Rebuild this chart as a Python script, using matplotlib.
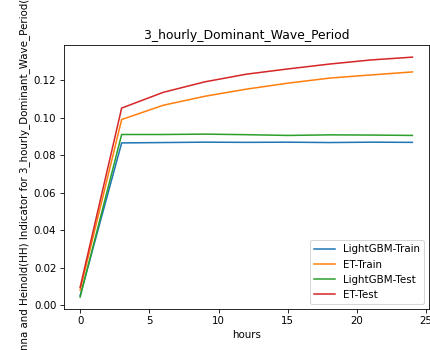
import matplotlib
matplotlib.use('Agg')
from matplotlib import pyplot as plt

hours = [0, 3, 6, 9, 12, 15, 18, 21, 24]

lgbm_train = [0.0050, 0.0866, 0.0868, 0.0870, 0.0869, 0.0870, 0.0868, 0.0870, 0.0869]
et_train = [0.0080, 0.0991, 0.1067, 0.1115, 0.1153, 0.1185, 0.1212, 0.1229, 0.1245]
lgbm_test = [0.0043, 0.0911, 0.0911, 0.0913, 0.0910, 0.0906, 0.0909, 0.0908, 0.0906]
et_test = [0.0095, 0.1052, 0.1136, 0.1192, 0.1233, 0.1261, 0.1287, 0.1309, 0.1324]

target = '3_hourly_Dominant_Wave_Period'

dpi = 74
fig = plt.figure(figsize=(430 / dpi, 350 / dpi), dpi=dpi)
ax = fig.add_axes([0.1477, 0.117, 0.850, 0.754])

ax.plot(hours, lgbm_train, label='LightGBM-Train')
ax.plot(hours, et_train, label='ET-Train')
ax.plot(hours, lgbm_test, label='LightGBM-Test')
ax.plot(hours, et_test, label='ET-Test')

ax.set_title(target)
ax.set_xlabel('hours')
ax.set_ylabel(f'Hanna and Heinold(HH) Indicator for {target}(s)')
ax.set_xticks([0, 5, 10, 15, 20, 25])
ax.legend(loc='lower right')

fig.savefig('out.png', dpi=dpi)
